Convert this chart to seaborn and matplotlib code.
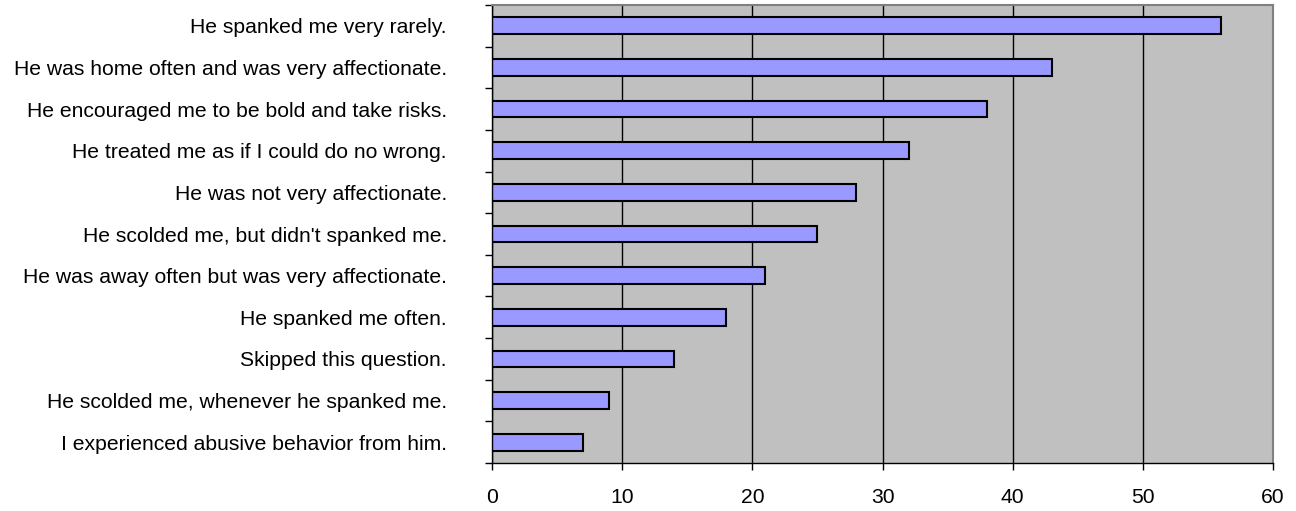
import numpy as np
import pandas as pd
import seaborn as sns
import matplotlib.pyplot as plt

sns.set_theme(style="white")
plt.rcParams['font.family'] = ['Liberation Sans', 'DejaVu Sans']

answers = [
    "He spanked me very rarely.",
    "He was home often and was very affectionate.",
    "He encouraged me to be bold and take risks.",
    "He treated me as if I could do no wrong.",
    "He was not very affectionate.",
    "He scolded me, but didn't spanked me.",
    "He was away often but was very affectionate.",
    "He spanked me often.",
    "Skipped this question.",
    "He scolded me, whenever he spanked me.",
    "I experienced abusive behavior from him.",
]
counts = [56, 43, 38, 32, 28, 25, 21, 18, 14, 9, 7]
df = pd.DataFrame({"answer": answers, "count": counts})

fig = plt.figure(figsize=(12.96, 5.11), dpi=100)
ax = fig.add_axes([0.3796, 0.0939, 0.6027, 0.8963])
ax.set_facecolor("#C0C0C0")
sns.barplot(data=df, y="answer", x="count", orient="h", color="#9999FF",
            edgecolor="black", linewidth=1.5, width=0.4, saturation=1, ax=ax)

ax.set_xlim(0, 60)
ax.set_ylim(len(answers) - 0.5, -0.5)
ax.set_xticks(np.arange(0, 61, 10))
ax.xaxis.grid(True, color="black", linewidth=1)
ax.set_axisbelow(True)
ax.set_yticks(np.arange(-0.5, len(answers), 1), minor=True)
ax.tick_params(axis="y", which="major", length=0, pad=32.5, labelsize=15.2, labelcolor="black")
ax.tick_params(axis="y", which="minor", length=5, width=1, color="black", direction="out", left=True)
ax.tick_params(axis="x", length=5, width=1, color="black", direction="out", bottom=True, pad=13,
               labelsize=15.2, labelcolor="black")
ax.set_xlabel("")
ax.set_ylabel("")
for side in ["left", "bottom"]:
    ax.spines[side].set_color("black")
    ax.spines[side].set_linewidth(1)
for side in ["top", "right"]:
    ax.spines[side].set_color("#808080")
    ax.spines[side].set_linewidth(1.5)

fig.savefig("out.png", dpi=100)
